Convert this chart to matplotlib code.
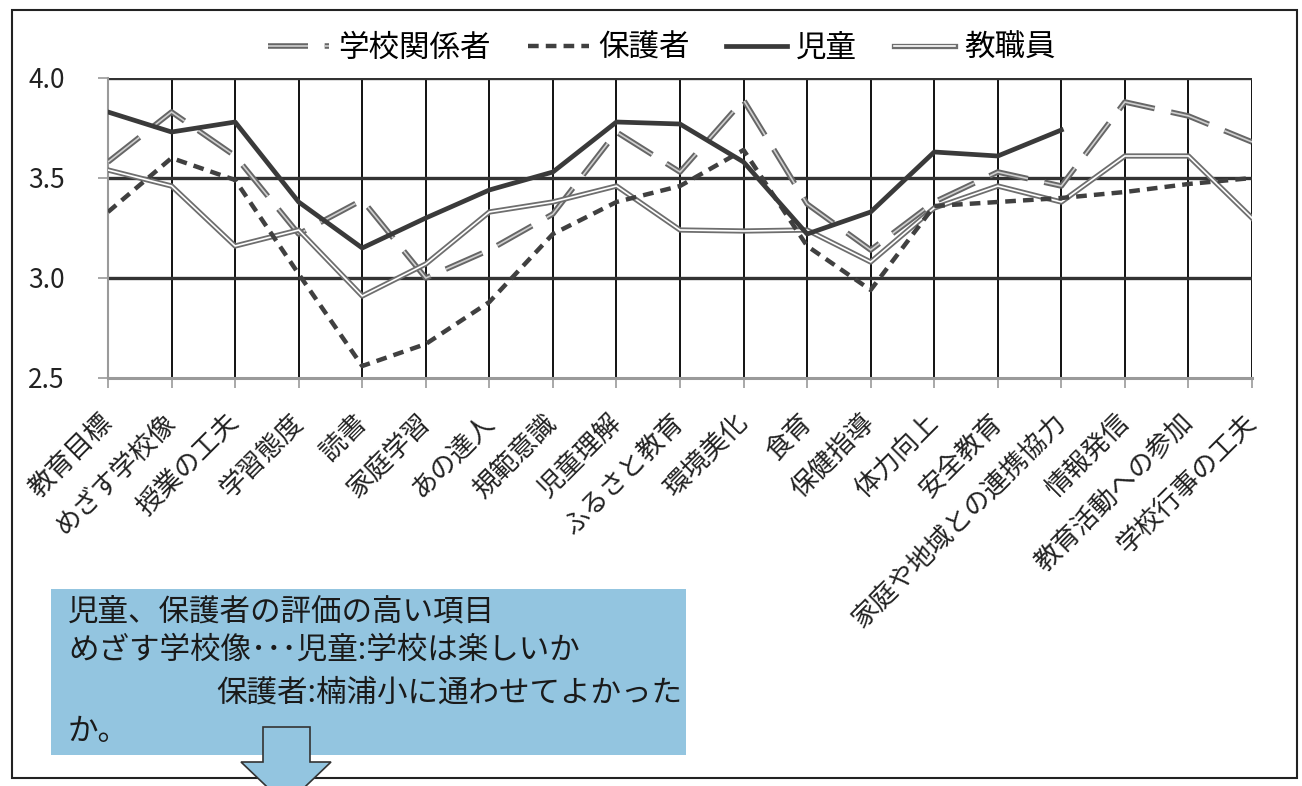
import numpy as np
import matplotlib
matplotlib.use('Agg')
import matplotlib.pyplot as plt
import matplotlib.patheffects as pe
from matplotlib.patches import Rectangle, Polygon

plt.rcParams['font.family'] = ['Noto Sans CJK JP', 'DejaVu Sans']

# 項目
categories = ['教育目標', 'めざす学校像', '授業の工夫', '学習態度', '読書', '家庭学習',
              'あの達人', '規範意識', '児童理解', 'ふるさと教育', '環境美化', '食育',
              '保健指導', '体力向上', '安全教育', '家庭や地域との連携協力', '情報発信',
              '教育活動への参加', '学校行事の工夫']

# 評価の平均値
gakko_kankei = [3.58, 3.83, 3.61, 3.22, 3.39, 3.00, 3.14, 3.32, 3.73, 3.53,
                3.89, 3.37, 3.14, 3.38, 3.53, 3.46, 3.88, 3.81, 3.68]
hogosha = [3.33, 3.60, 3.49, 3.02, 2.56, 2.67, 2.88, 3.22, 3.38, 3.46,
           3.64, 3.16, 2.94, 3.36, 3.38, 3.40, 3.43, 3.47, 3.50]
jido = [3.83, 3.73, 3.78, 3.38, 3.15, 3.30, 3.44, 3.53, 3.78, 3.77,
        3.58, 3.22, 3.33, 3.63, 3.61, 3.74, np.nan, np.nan, np.nan]
kyoshokuin = [3.54, 3.46, 3.16, 3.24, 2.91, 3.07, 3.33, 3.38, 3.46, 3.24,
              3.235, 3.24, 3.08, 3.35, 3.46, 3.38, 3.61, 3.61, 3.30]

yticks = [2.5, 3.0, 3.5, 4.0]

note_lines = ['児童、保護者の評価の高い項目',
              'めざす学校像･･･児童:学校は楽しいか',
              '保護者:楠浦小に通わせてよかった',
              'か。']

W, H = 1302, 786
fig = plt.figure(figsize=(W / 100, H / 100), dpi=100)


def fx(px):
    return px / W


def fy(py):
    return 1 - py / H


# 外枠
fig.patches.append(Rectangle((fx(12), fy(778)), fx(1297) - fx(12), fy(10) - fy(778),
                             transform=fig.transFigure, fill=False,
                             edgecolor='#222222', lw=1.5, zorder=0))

ax = fig.add_axes([fx(108), fy(378), fx(1252) - fx(108), fy(78) - fy(378)])
x = np.arange(len(categories))
ax.set_xlim(0, len(categories) - 1)
ax.set_ylim(yticks[0], yticks[-1])

# 罫線
ax.vlines(x[1:], yticks[0], yticks[-1], color='#111111', lw=1.4, zorder=1)
for yv in yticks[1:]:
    ax.axhline(yv, color='#333333', lw=2.4, zorder=1)

for s in ['top', 'right']:
    ax.spines[s].set_visible(False)
ax.spines['left'].set_color('#9a9a9a')
ax.spines['left'].set_linewidth(1.5)
ax.spines['bottom'].set_color('#9a9a9a')
ax.spines['bottom'].set_linewidth(2.2)

# 系列
ax.plot(x, gakko_kankei, color='#cfcfcf', lw=1.2, linestyle=(0, (24, 10)),
        solid_capstyle='butt', dash_capstyle='butt', zorder=3, label='学校関係者',
        path_effects=[pe.Stroke(linewidth=4.0, foreground='#666666'), pe.Normal()])
ax.plot(x, hogosha, color='#404040', lw=3.2, linestyle=(0, (2.4, 1.6)),
        dash_capstyle='butt', zorder=4, label='保護者')
ax.plot(x, jido, color='#3a3a3a', lw=3.4, zorder=5, label='児童')
ax.plot(x, kyoshokuin, color='white', lw=1.2, zorder=3, label='教職員',
        path_effects=[pe.Stroke(linewidth=3.8, foreground='#6e6e6e'), pe.Normal()])

ax.set_yticks(yticks)
ax.set_yticklabels([f'{v:.1f}' for v in yticks], fontsize=19, color='#222222')
ax.tick_params(axis='y', length=7, width=1.2, color='#9a9a9a', pad=24)
ax.set_xticks(x)
ax.set_xticklabels(categories, fontsize=19, rotation=45, ha='right', va='center',
                   rotation_mode='anchor', color='#222222')
ax.tick_params(axis='x', length=7, width=1.2, color='#9a9a9a', pad=22)

fig.legend(loc='center', bbox_to_anchor=(fx(662), fy(48)), ncol=4, frameon=False,
           fontsize=22, handlelength=2.0, handletextpad=0.3, columnspacing=1.2,
           borderaxespad=0, borderpad=0)

# コメント欄
box_color = '#93c5e0'
fig.patches.append(Rectangle((fx(51), fy(755)), fx(686) - fx(51), fy(589) - fy(755),
                             transform=fig.transFigure, facecolor=box_color,
                             edgecolor='none', zorder=1))
arrow = [(263, 727), (310, 727), (310, 762), (331, 762), (286, 805),
         (241, 762), (263, 762)]
fig.patches.append(Polygon([(fx(a), fy(b)) for a, b in arrow], closed=True,
                           transform=fig.transFigure, facecolor=box_color,
                           edgecolor='#333333', lw=1.2, zorder=2))

note_pos = [(68, 612), (68, 650), (216, 693), (68, 732)]
for (tx, ty), line in zip(note_pos, note_lines):
    fig.text(fx(tx), fy(ty), line, fontsize=22, color='#1a1a1a', va='center', ha='left')

fig.savefig('out.png', dpi=100)
